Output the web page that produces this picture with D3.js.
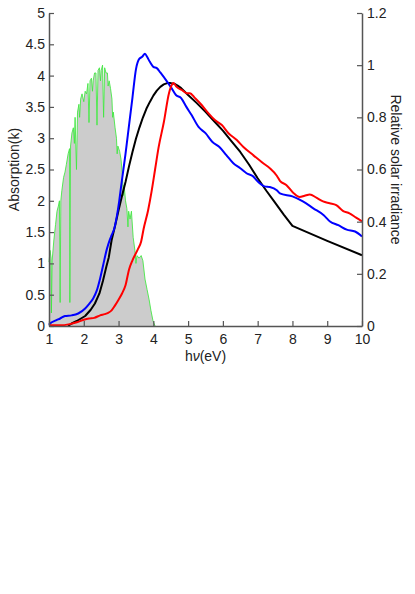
<!DOCTYPE html>
<html>
<head>
<meta charset="utf-8">
<script src="https://cdn.jsdelivr.net/npm/d3@7"></script>
<style>
  body { margin: 0; background: #fff; }
  text { font-family: "Liberation Sans", Arial, sans-serif; }
</style>
</head>
<body>
<div id="vis-container"></div>
<script>
// relative solar irradiance (right axis), [eV, value]
const solar = [
  [1.00, 0.245], [1.03, 0.29], [1.06, 0.26], [1.07, 0.05], [1.09, 0.25], [1.14, 0.33],
  [1.19, 0.39], [1.23, 0.44], [1.27, 0.46], [1.30, 0.48], [1.32, 0.09], [1.34, 0.48],
  [1.37, 0.52], [1.42, 0.57], [1.46, 0.59], [1.50, 0.62], [1.55, 0.66], [1.59, 0.68],
  [1.60, 0.09], [1.62, 0.69], [1.66, 0.74], [1.70, 0.76], [1.73, 0.70], [1.75, 0.80],
  [1.79, 0.60], [1.82, 0.82], [1.86, 0.85], [1.88, 0.80], [1.91, 0.87], [1.95, 0.89],
  [2.00, 0.86], [2.04, 0.90], [2.08, 0.89], [2.12, 0.93], [2.15, 0.78], [2.18, 0.94],
  [2.22, 0.95], [2.25, 0.90], [2.27, 0.94], [2.31, 0.97], [2.35, 0.97], [2.38, 0.77],
  [2.41, 0.98], [2.45, 0.99], [2.48, 0.94], [2.50, 0.98], [2.54, 1.00], [2.57, 0.80],
  [2.60, 0.99], [2.64, 0.97], [2.68, 0.97], [2.70, 0.92], [2.73, 0.94], [2.77, 0.91],
  [2.81, 0.87], [2.83, 0.80], [2.85, 0.82], [2.90, 0.76], [2.94, 0.72], [2.96, 0.66],
  [2.98, 0.69], [3.03, 0.67], [3.07, 0.64], [3.11, 0.58], [3.14, 0.50], [3.16, 0.54],
  [3.20, 0.48], [3.24, 0.45], [3.27, 0.38], [3.29, 0.44], [3.33, 0.41], [3.37, 0.44],
  [3.42, 0.34], [3.47, 0.29], [3.50, 0.24], [3.53, 0.27], [3.59, 0.26], [3.65, 0.27],
  [3.70, 0.25], [3.76, 0.18], [3.82, 0.14], [3.88, 0.10], [3.93, 0.06], [3.99, 0.02],
  [4.05, 0.00]
];

// absorption k (left axis), [eV, k]
const blueK = [
  [1.00, 0.02], [1.03, 0.04], [1.20, 0.09], [1.32, 0.12], [1.46, 0.16], [1.65, 0.17],
  [1.84, 0.20], [2.04, 0.28], [2.15, 0.35], [2.27, 0.44], [2.37, 0.56], [2.47, 0.76],
  [2.56, 0.98], [2.66, 1.22], [2.75, 1.38], [2.80, 1.45], [2.88, 1.56], [2.95, 1.75],
  [3.02, 2.00], [3.09, 2.30], [3.20, 2.75], [3.30, 3.20], [3.40, 3.65], [3.50, 4.10],
  [3.60, 4.27], [3.68, 4.30], [3.76, 4.35], [3.82, 4.30], [3.90, 4.22], [4.00, 4.14],
  [4.10, 4.12], [4.20, 4.05], [4.40, 3.90], [4.50, 3.82], [4.65, 3.69], [4.80, 3.64],
  [4.95, 3.50], [5.10, 3.37], [5.30, 3.18], [5.50, 3.08], [5.70, 2.94], [5.90, 2.86],
  [6.10, 2.73], [6.30, 2.60], [6.50, 2.52], [6.68, 2.44], [6.87, 2.39], [7.00, 2.31],
  [7.20, 2.23], [7.35, 2.22], [7.55, 2.17], [7.64, 2.12], [8.00, 2.07], [8.30, 1.99],
  [8.60, 1.88], [8.90, 1.77], [9.08, 1.67], [9.32, 1.61], [9.56, 1.54], [9.80, 1.51],
  [10.0, 1.43]
];

const blackK = [
  [1.55, 0.00], [1.65, 0.04], [1.80, 0.08], [1.92, 0.12], [2.04, 0.16], [2.20, 0.26],
  [2.32, 0.36], [2.45, 0.52], [2.55, 0.72], [2.65, 0.95], [2.72, 1.10], [2.80, 1.37],
  [2.90, 1.60], [3.00, 1.85], [3.10, 2.08], [3.20, 2.30], [3.30, 2.55], [3.40, 2.78],
  [3.50, 2.99], [3.60, 3.17], [3.70, 3.33], [3.80, 3.47], [3.90, 3.58], [4.00, 3.68],
  [4.10, 3.76], [4.20, 3.82], [4.30, 3.86], [4.40, 3.88], [4.50, 3.88], [4.60, 3.87],
  [4.70, 3.84], [4.80, 3.80], [5.00, 3.69], [5.25, 3.56], [5.50, 3.42], [5.75, 3.27],
  [6.00, 3.12], [6.25, 2.95], [6.50, 2.78], [6.75, 2.58], [7.00, 2.36], [7.25, 2.16],
  [7.50, 1.97], [7.75, 1.78], [8.00, 1.60], [9.00, 1.36], [10.0, 1.13]
];

const redK = [
  [1.00, 0.01], [1.30, 0.01], [1.60, 0.03], [1.80, 0.06], [2.00, 0.10], [2.15, 0.12],
  [2.30, 0.13], [2.47, 0.17], [2.60, 0.19], [2.70, 0.21], [2.80, 0.25], [2.90, 0.33],
  [3.00, 0.42], [3.10, 0.52], [3.20, 0.65], [3.30, 0.90], [3.40, 1.05], [3.55, 1.22],
  [3.65, 1.35], [3.72, 1.55], [3.85, 1.85], [3.95, 2.15], [4.05, 2.50], [4.15, 2.85],
  [4.30, 3.25], [4.45, 3.72], [4.53, 3.85], [4.58, 3.88], [4.67, 3.82], [4.82, 3.77],
  [4.96, 3.72], [5.05, 3.72], [5.20, 3.64], [5.39, 3.53], [5.58, 3.40], [5.77, 3.29],
  [5.97, 3.21], [6.16, 3.08], [6.40, 2.97], [6.59, 2.86], [6.87, 2.73], [7.16, 2.60],
  [7.35, 2.52], [7.55, 2.40], [7.64, 2.32], [7.83, 2.25], [8.02, 2.13], [8.21, 2.06],
  [8.35, 2.08], [8.50, 2.10], [8.69, 2.05], [8.88, 1.99], [9.07, 1.96], [9.26, 1.93],
  [9.45, 1.84], [9.64, 1.80], [9.83, 1.73], [10.0, 1.67]
];

const xTicks = [1, 2, 3, 4, 5, 6, 7, 8, 9, 10];
const leftTicks = [0, 0.5, 1, 1.5, 2, 2.5, 3, 3.5, 4, 4.5, 5];
const rightTicks = [0, 0.2, 0.4, 0.6, 0.8, 1, 1.2];

// Set dimensions and margins
const width = 415;
const height = 594;
const margin = { left: 49, right: 53, top: 13, bottom: 268 };

const svg = d3.select("#vis-container")
  .append("svg")
  .attr("width", width)
  .attr("height", height);

const xScale = d3.scaleLinear()
  .domain([1, 10])
  .range([margin.left, width - margin.right]);

const yLeft = d3.scaleLinear()
  .domain([0, 5])
  .range([height - margin.bottom, margin.top]);

const yRight = d3.scaleLinear()
  .domain([0, 1.2])
  .range([height - margin.bottom, margin.top]);

// solar spectrum: grey fill with green edge
svg.append("path")
  .datum(solar)
  .attr("fill", "#cccccc")
  .attr("d", d3.area()
    .x(d => xScale(d[0]))
    .y0(yRight(0))
    .y1(d => yRight(d[1])));

svg.append("path")
  .datum(solar)
  .attr("fill", "none")
  .attr("stroke", "#3ee83e")
  .attr("stroke-opacity", 0.85)
  .attr("stroke-width", 1)
  .attr("d", d3.line()
    .x(d => xScale(d[0]))
    .y(d => yRight(d[1])));

// absorption curves (black is piecewise, blue/red smoothed)
const kSmooth = d3.line()
  .curve(d3.curveMonotoneX)
  .x(d => xScale(d[0]))
  .y(d => yLeft(d[1]));

const kStraight = d3.line()
  .x(d => xScale(d[0]))
  .y(d => yLeft(d[1]));

[[blackK, "#000000", kStraight], [blueK, "#0000ff", kSmooth], [redK, "#ff0000", kSmooth]].forEach(function (s) {
  svg.append("path")
    .datum(s[0])
    .attr("fill", "none")
    .attr("stroke", s[1])
    .attr("stroke-width", 2)
    .attr("stroke-linejoin", "round")
    .attr("d", s[2]);
});

// axes
const fmt = d => +d.toFixed(1);

const gx = svg.append("g")
  .attr("transform", `translate(0,${height - margin.bottom})`)
  .call(d3.axisBottom(xScale).tickValues(xTicks).tickFormat(fmt)
    .tickSizeInner(-5).tickSizeOuter(0).tickPadding(8));

const gl = svg.append("g")
  .attr("transform", `translate(${margin.left},0)`)
  .call(d3.axisLeft(yLeft).tickValues(leftTicks).tickFormat(fmt)
    .tickSizeInner(-5).tickSizeOuter(0).tickPadding(4));

const gr = svg.append("g")
  .attr("transform", `translate(${width - margin.right},0)`)
  .call(d3.axisRight(yRight).tickValues(rightTicks).tickFormat(fmt)
    .tickSizeInner(-5).tickSizeOuter(0).tickPadding(5));

[gx, gl, gr].forEach(function (g) {
  g.selectAll(".domain").attr("stroke", "#555").attr("stroke-width", 1.5);
  g.selectAll(".tick line").attr("stroke", "#555").attr("stroke-width", 1.2);
  g.selectAll("text")
    .attr("font-size", "14px")
    .attr("fill", "#222")
    .attr("font-family", "Liberation Sans, Arial, sans-serif");
});

// axis labels
const midY = (margin.top + height - margin.bottom) / 2;

svg.append("text")
  .attr("transform", `translate(19,${midY}) rotate(-90)`)
  .attr("text-anchor", "middle")
  .attr("font-size", "14px")
  .attr("fill", "#222")
  .text("Absorption(k)");

svg.append("text")
  .attr("transform", `translate(391,${midY}) rotate(90)`)
  .attr("text-anchor", "middle")
  .attr("font-size", "14px")
  .attr("fill", "#222")
  .text("Relative solar irradiance");

const xl = svg.append("text")
  .attr("x", (margin.left + width - margin.right) / 2)
  .attr("y", 361)
  .attr("text-anchor", "middle")
  .attr("font-size", "14px")
  .attr("fill", "#222");
xl.append("tspan").text("h");
xl.append("tspan").attr("font-style", "italic").text("ν");
xl.append("tspan").text("(eV)");
</script>
</body>
</html>
